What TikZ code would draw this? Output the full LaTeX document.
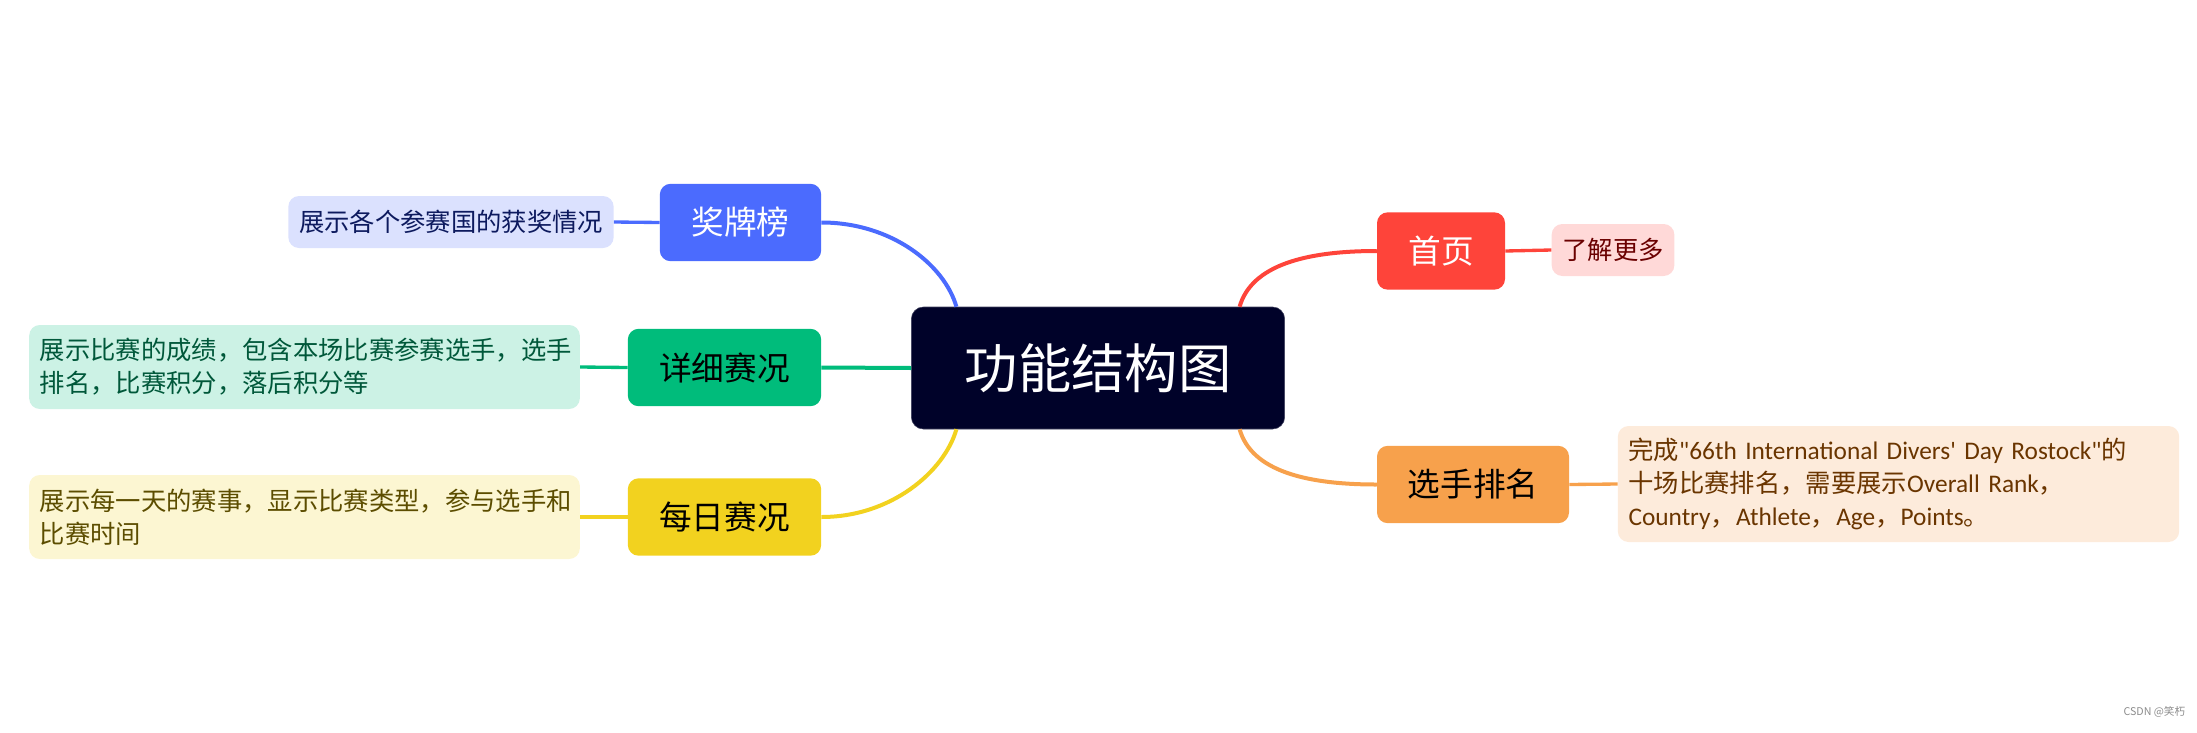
\documentclass[tikz,border=0pt]{standalone}
\usepackage{fontspec}
\usepackage{xcolor}
\newfontfamily\cjk{Noto Sans CJK SC}
\newfontfamily\lat{Carlito}

\definecolor{rootbg}{HTML}{000229}
\definecolor{medalc}{HTML}{4B6BFE}
\definecolor{medall}{HTML}{DBE1FE}
\definecolor{medalt}{HTML}{0D1A5E}
\definecolor{detailc}{HTML}{00BC7B}
\definecolor{detaill}{HTML}{CCF2E5}
\definecolor{detailt}{HTML}{00583A}
\definecolor{dailyc}{HTML}{F2D21F}
\definecolor{dailyl}{HTML}{FCF6D2}
\definecolor{dailyt}{HTML}{5C4D00}
\definecolor{homec}{HTML}{FE443A}
\definecolor{homel}{HTML}{FFD9D8}
\definecolor{homet}{HTML}{6A0000}
\definecolor{rankc}{HTML}{F7A14C}
\definecolor{rankl}{HTML}{FDEBDB}
\definecolor{rankt}{HTML}{6A3500}

\begin{document}
\begin{tikzpicture}[x=0.75pt,y=-0.75pt,
  rootbox/.style={rounded corners=9pt,fill=rootbg,draw=rootbg!75!white,text=white,
    font=\cjk\fontsize{40}{48}\selectfont,minimum width=280pt,minimum height=91.5pt},
  branch/.style={rounded corners=8pt,fill=#1,minimum height=58pt,
    font=\cjk\fontsize{24.5}{30}\selectfont},
  info/.style={rounded corners=8pt,fill=#1,align=left,inner xsep=8pt,
    font=\cjk\fontsize{19}{24.75}\selectfont},
  link/.style={line width=3pt,#1},
  sublink/.style={line width=2.5pt,#1}]
\useasboundingbox (0,0) rectangle (2197,732);

% centre
\node [rootbox] (root) at (1098,368) {功能结构图};

% left side
\node [branch=medalc,text=white,minimum width=121pt] (medal) at (740.5,222.5) {奖牌榜};
\node [branch=detailc,text=black,minimum width=145pt] (detail) at (724.5,367.5) {详细赛况};
\node [branch=dailyc,text=black,minimum width=145pt] (daily) at (724.5,517) {每日赛况};

\node [info=medall,text=medalt,minimum width=241.5pt,minimum height=39pt] (medalinfo) at (451,222) {展示各个参赛国的获奖情况};
\node [info=detaill,text=detailt,text width=397pt,minimum height=63pt] (detailinfo) at (304.5,367)
  {展示比赛的成绩，包含本场比赛参赛选手，选手\\排名，比赛积分，落后积分等};
\node [info=dailyl,text=dailyt,text width=397pt,minimum height=63pt] (dailyinfo) at (304.5,517)
  {展示每一天的赛事，显示比赛类型，参与选手和\\比赛时间};

% right side
\node [branch=homec,text=white,minimum width=96pt] (home) at (1441,251) {首页};
\node [branch=rankc,text=black,minimum width=144pt] (rank) at (1473,484.5) {选手排名};

\node [info=homel,text=homet,minimum width=91.5pt,minimum height=39pt] (homeinfo) at (1613,250) {了解更多};
\node [info=rankl,text=rankt,text width=405pt,minimum height=87pt] (rankinfo) at (1898.5,484)
  {\mbox{完成{\lat"66th International Divers' Day Rostock"}的}\\
   十场比赛排名，需要展示{\lat Overall Rank}，\\
   {\lat Country}，{\lat Athlete}，{\lat Age}，{\lat Points}。};

% branches
\draw [link=medalc] (medal.east) .. controls +(70,0) and +(-12,-42) .. ([xshift=34pt]root.north west);
\draw [link=detailc] (root.west) -- (detail.east);
\draw [link=dailyc] (daily.east) .. controls +(70,0) and +(-12,42) .. ([xshift=34pt]root.south west);
\draw [link=homec] ([xshift=-34pt]root.north east) .. controls +(12,-42) and +(-70,0) .. (home.west);
\draw [link=rankc] ([xshift=-34pt]root.south east) .. controls +(12,42) and +(-70,0) .. (rank.west);

% details
\draw [sublink=medalc] (medal.west) -- (medalinfo.east);
\draw [sublink=detailc] (detail.west) -- (detailinfo.east);
\draw [sublink=dailyc] (daily.west) -- (dailyinfo.east);
\draw [sublink=homec] (home.east) -- (homeinfo.west);
\draw [sublink=rankc] (rank.east) -- (rankinfo.west);

\node [text=black!45,font=\cjk\fontsize{8}{10}\selectfont,anchor=east] (mark) at (2190,712) {CSDN @笑朽};
\end{tikzpicture}
\end{document}
